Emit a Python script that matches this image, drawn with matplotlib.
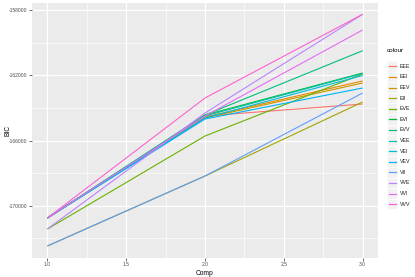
import matplotlib
matplotlib.use("Agg")
import matplotlib.pyplot as plt
from matplotlib.lines import Line2D
from matplotlib.patches import Rectangle
import numpy as np

plt.rcParams['font.family'] = ['Liberation Sans', 'DejaVu Sans']

comp = [1, 2, 3]
models = ["EEE", "EEI", "EEV", "EII", "EVE", "EVI", "EVV",
          "VEE", "VEI", "VEV", "VII", "VVE", "VVI", "VVV"]
bic = {
    "EEE": [-170760, -164494, -163757],
    "EEI": [-170760, -164556, -162344],
    "EEV": [-170760, -164617, -162467],
    "EII": [-172480, -168180, -163634],
    "EVE": [-171437, -165723, -161914],
    "EVI": [-170760, -164433, -161852],
    "EVV": [-170760, -164433, -160482],
    "VEE": [-170760, -164494, -161883],
    "VEI": [-170760, -164617, -162006],
    "VEV": [-170760, -164679, -162774],
    "VII": [-172480, -168180, -163081],
    "VVE": [-171437, -164310, -158246],
    "VVI": [-170760, -164494, -159210],
    "VVV": [-170760, -163388, -158246],
}
colors = ["#F8766D", "#E58700", "#C99800", "#A3A500", "#6BB100", "#00BA38", "#00BF7D",
          "#00C0AF", "#00BCD8", "#00B0F6", "#619CFF", "#B983FF", "#E76BF3", "#FD61D1"]
yticks = [-158000, -162000, -166000, -170000]
xticks = [1.0, 1.5, 2.0, 2.5, 3.0]
xlabels = ["1.0", "1.5", "2.0", "2.5", "3.0"]

W, H = 415, 277
fig = plt.figure(figsize=(W / 100, H / 100), dpi=100)
fig.patch.set_facecolor("white")
left, right = 31.6 / W, 378.4 / W
bottom, top = 1 - 257.6 / H, 1 - 2.7 / H
ax = fig.add_axes([left, bottom, right - left, top - bottom])
ax.set_facecolor("#EBEBEB")

handles = []
for m, c in zip(models, colors):
    ln, = ax.plot(comp, bic[m], color=c, lw=0.8, solid_capstyle="butt", zorder=3)
    handles.append(ln)

allv = np.array([v for m in models for v in bic[m]])
lo, hi = allv.min(), allv.max()
pad = (hi - lo) * 0.05
ax.set_ylim(lo - pad, hi + pad)
ax.set_xlim(0.9, 3.1)

ax.set_yticks(yticks)
ax.set_yticklabels([str(t) for t in yticks])
ax.set_xticks(xticks)
ax.set_xticklabels(xlabels)
minor_y = [-160000, -164000, -168000, -172000]
ax.set_yticks(minor_y, minor=True)
ax.set_xticks([1.25, 1.75, 2.25, 2.75], minor=True)
ax.grid(which="major", color="white", lw=0.9, zorder=1)
ax.grid(which="minor", color="white", lw=0.45, zorder=1)
ax.set_axisbelow(True)
for s in ax.spines.values():
    s.set_visible(False)
ax.tick_params(which="major", length=2, width=0.5, color="#333333",
               labelsize=3.6, labelcolor="#4D4D4D", pad=1.2)
ax.tick_params(which="minor", length=0)
ax.set_xlabel("Comp", fontsize=4.8, labelpad=2)
fig.text(8 / W, 1 - 130 / H, "BIC", fontsize=4.8, rotation=90, ha="center", va="center")

# legend
fig.text(387 / W, 1 - 50 / H, "colour", fontsize=4.6, ha="left", va="center")
y0 = 66.3
step = 10.6
for i, (m, h) in enumerate(zip(models, handles)):
    yc = y0 + i * step
    fig.add_artist(Rectangle((387.3 / W, 1 - (yc + step / 2) / H), 9.4 / W, step / H,
                             transform=fig.transFigure, facecolor="#F2F2F2",
                             edgecolor="white", lw=0.4))
    fig.add_artist(Line2D([388.5 / W, 395.5 / W], [1 - yc / H, 1 - yc / H],
                          transform=fig.transFigure, color=h.get_color(), lw=0.9))
    fig.text(400 / W, 1 - yc / H, m, fontsize=3.8, color="#1A1A1A", ha="left", va="center")

fig.savefig("out.png", dpi=100)
